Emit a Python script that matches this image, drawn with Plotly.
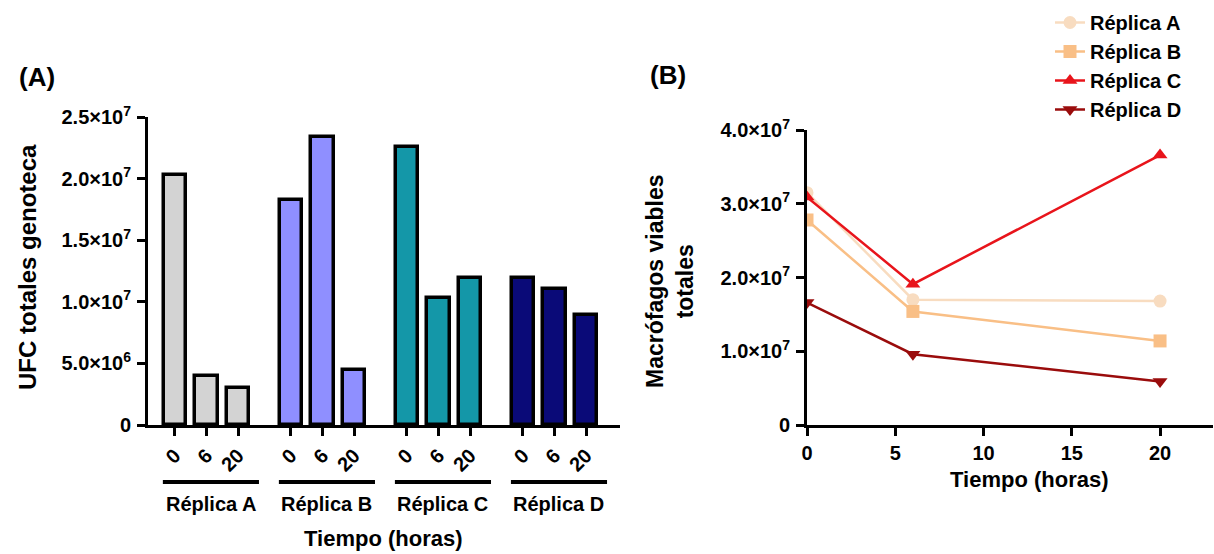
import plotly.graph_objects as go

# ---------------- data ----------------
replicas = ["Réplica A", "Réplica B", "Réplica C", "Réplica D"]
time_labels = ["0", "6", "20"]
ufc_A = [2.03e7, 3.98e6, 3.0e6]
ufc_B = [1.83e7, 2.34e7, 4.46e6]
ufc_C = [2.26e7, 1.03e7, 1.19e7]
ufc_D = [1.19e7, 1.10e7, 8.9e6]
ufc_all = [ufc_A, ufc_B, ufc_C, ufc_D]
bar_colors = ["#D3D3D3", "#8F8FFF", "#1497A8", "#0A0A78"]

hours = [0, 6, 20]
mac_A = [3.15e7, 1.70e7, 1.68e7]
mac_B = [2.78e7, 1.54e7, 1.14e7]
mac_C = [3.09e7, 1.91e7, 3.66e7]
mac_D = [1.66e7, 0.96e7, 0.59e7]
mac_all = [mac_A, mac_B, mac_C, mac_D]
line_colors = ["#F8DCC0", "#F9BF86", "#E8141B", "#9A0C0C"]
symbols = ["circle", "square", "triangle-up", "triangle-down"]

yA_ticks = [0, 5e6, 1e7, 1.5e7, 2e7, 2.5e7]
yA_text = ["0", "5.0×10<sup>6</sup>", "1.0×10<sup>7</sup>", "1.5×10<sup>7</sup>",
           "2.0×10<sup>7</sup>", "2.5×10<sup>7</sup>"]
yB_ticks = [0, 1e7, 2e7, 3e7, 4e7]
yB_text = ["0", "1.0×10<sup>7</sup>", "2.0×10<sup>7</sup>", "3.0×10<sup>7</sup>",
           "4.0×10<sup>7</sup>"]
xB_ticks = [0, 5, 10, 15, 20]

W, H = 1214, 554
FONT = "Liberation Sans, Arial, sans-serif"
GROUP_STRIDE = 3.67

fig = go.Figure()

tickvals_A, ticktext_A = [], []
for g, (vals, col) in enumerate(zip(ufc_all, bar_colors)):
    xs = [g * GROUP_STRIDE + i for i in range(len(vals))]
    tickvals_A += xs
    ticktext_A += time_labels
    fig.add_trace(go.Bar(
        x=xs, y=vals, width=0.7, marker=dict(color=col, line=dict(color="black", width=3.5)),
        xaxis="x", yaxis="y", showlegend=False))

for name, vals, col, sym in zip(replicas, mac_all, line_colors, symbols):
    fig.add_trace(go.Scatter(
        x=hours, y=vals, mode="lines+markers", name=name, legendgroup=name,
        line=dict(color=col, width=2.5),
        marker=dict(symbol=sym, size=13, color=col),
        xaxis="x2", yaxis="y2"))

def px_x(p):
    return p / W

def px_y(p):
    return (H - p) / H

axis_common = dict(showline=True, linecolor="black", linewidth=3, ticks="outside",
                   tickwidth=2.5, ticklen=8, tickcolor="black", showgrid=False,
                   zeroline=False, automargin=False,
                   tickfont=dict(family=FONT, size=20, color="black", weight="bold"))

fig.update_layout(
    template="none",
    width=W, height=H, margin=dict(l=0, r=0, t=0, b=0, autoexpand=False),
    plot_bgcolor="white", paper_bgcolor="white",
    font=dict(family=FONT, color="black"),
    bargap=0,
    xaxis=dict(domain=[px_x(148), px_x(620)], range=[-0.85, 14.08], anchor="y",
               tickvals=tickvals_A, ticktext=ticktext_A, tickangle=-45, **axis_common),
    yaxis=dict(domain=[px_y(425), px_y(117)], range=[0, 2.5e7], anchor="x",
               tickvals=yA_ticks, ticktext=yA_text, **axis_common),
    xaxis2=dict(domain=[px_x(807), px_x(1213)], range=[0, 23], anchor="y2",
                tickvals=xB_ticks, **axis_common),
    yaxis2=dict(domain=[px_y(425), px_y(130)], range=[0, 4e7], anchor="x2",
                tickvals=yB_ticks, ticktext=yB_text, **axis_common),
    legend=dict(x=px_x(1050), y=px_y(3), xanchor="left", yanchor="top",
                font=dict(family=FONT, size=20, color="black", weight="bold"),
                tracegroupgap=0, bgcolor="rgba(0,0,0,0)", itemwidth=30),
    showlegend=True,
)
fig.update_yaxes(ticklabelstandoff=2)

shapes = []
annotations = []
for g, name in enumerate(replicas):
    x0 = g * GROUP_STRIDE - 0.38
    x1 = g * GROUP_STRIDE + 2.66
    shapes.append(dict(type="line", xref="x", yref="paper", x0=x0, x1=x1,
                       y0=px_y(482), y1=px_y(482), line=dict(color="black", width=4)))
    annotations.append(dict(text="<b>" + name + "</b>", xref="x", yref="paper",
                            x=(x0 + x1) / 2, y=px_y(504), showarrow=False,
                            xanchor="center", yanchor="middle",
                            font=dict(size=20, family=FONT)))

def label(text, x, y, size, angle=0):
    return dict(text=text, xref="paper", yref="paper", x=px_x(x), y=px_y(y),
                xanchor="center", yanchor="middle", textangle=angle,
                showarrow=False, font=dict(size=size, family=FONT))

annotations += [
    label("<b>Tiempo (horas)</b>", 383, 538, 22),
    label("<b>Tiempo (horas)</b>", 1029, 479, 22),
    label("<b>UFC totales genoteca</b>", 27, 267, 24, -90),
    label("<b>Macrófagos viables<br>totales</b>", 670, 282, 23, -90),
    label("<b>(A)</b>", 37, 77, 26),
    label("<b>(B)</b>", 668, 75, 26),
]
fig.update_layout(shapes=shapes, annotations=annotations)

fig.write_html("out.html", config={"displayModeBar": False},
               post_script="document.body.style.margin='0';")
